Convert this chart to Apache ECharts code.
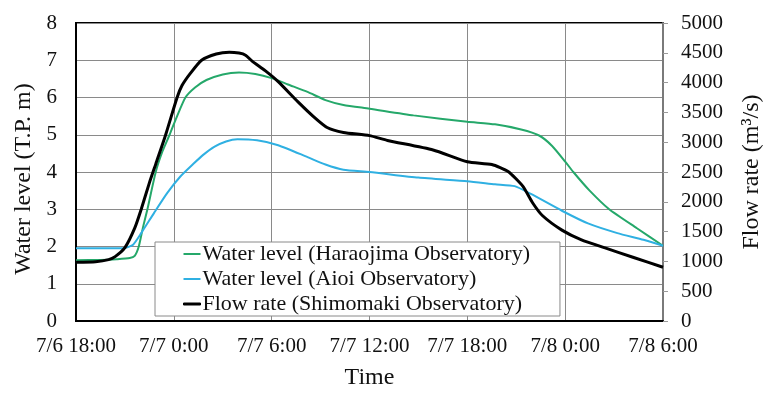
<!DOCTYPE html>
<html>
<head>
<meta charset="utf-8">
<script src="https://cdn.jsdelivr.net/npm/echarts@6/dist/echarts.min.js"></script>
<style>
  html, body { margin: 0; padding: 0; background: #fff; }
  #chart { width: 772px; height: 395px; }
</style>
</head>
<body>
<div id="chart"></div>
<script>
// hours after 7/6 18:00
const timeLabels = ['7/6 18:00', '7/7 0:00', '7/7 6:00', '7/7 12:00', '7/7 18:00', '7/8 0:00', '7/8 6:00'];

// water level (T.P. m), Haraojima
const haraojima = [
  [0, 1.63], [1.5, 1.64], [2.5, 1.66], [3.3, 1.69], [3.6, 1.75], [3.85, 2.0],
  [4.1, 2.5], [4.38, 3.0], [4.89, 4.0], [5.3, 4.55], [5.74, 5.0], [6.2, 5.5],
  [6.71, 6.0], [7.3, 6.27], [8.0, 6.47], [9.0, 6.62], [10.0, 6.67], [11.0, 6.63],
  [12.0, 6.52], [13.0, 6.35], [14.2, 6.15], [15.3, 5.93], [16.4, 5.8], [18, 5.7],
  [20.7, 5.52], [24, 5.35], [25.7, 5.28], [27.3, 5.14], [28.4, 4.98], [29.2, 4.7],
  [30, 4.28], [30.5, 4.0], [31.5, 3.5], [32.7, 3.0], [34.4, 2.49], [36, 2.02]
];

// water level (T.P. m), Aioi
const aioi = [
  [0, 1.95], [2, 1.95], [3, 1.96], [3.5, 2.05], [4.0, 2.36], [4.8, 2.91],
  [5.6, 3.44], [6.4, 3.88], [7.2, 4.22], [7.8, 4.46], [8.5, 4.68], [9.2, 4.82],
  [9.9, 4.88], [11.1, 4.85], [12.4, 4.72], [14.2, 4.4], [15.3, 4.2], [16.4, 4.06],
  [18, 4.0], [21, 3.85], [24, 3.75], [25.7, 3.67], [26.9, 3.62], [27.9, 3.41],
  [29.8, 2.96], [31.4, 2.62], [33.2, 2.36], [34.8, 2.18], [36, 2.02]
];

// flow rate (m3/s), Shimomaki
const shimomaki = [
  [0, 985], [1.2, 995], [2.0, 1030], [2.4, 1080], [3.0, 1230], [3.6, 1557],
  [4.0, 1875], [4.5, 2318], [4.9, 2640], [5.5, 3125], [6.2, 3750], [6.5, 3950],
  [7.0, 4150], [7.7, 4375], [8.6, 4480], [9.4, 4510], [10.0, 4495], [10.4, 4460],
  [10.8, 4360], [11.6, 4200], [12.4, 4016], [13.6, 3680], [14.6, 3420], [15.4, 3246],
  [16.4, 3164], [18.0, 3110], [19.1, 3030], [21.9, 2870], [24.0, 2672], [25.5, 2625],
  [26.5, 2508], [27.4, 2262], [28.0, 1984], [28.6, 1770], [29.8, 1525], [31.0, 1361],
  [32.4, 1230], [34.2, 1066], [36, 902]
];

const FONT = '"Liberation Serif", "Times New Roman", serif';
const TEXT = '#111';
const GRID = '#8a8a8a';

const chart = echarts.init(document.getElementById('chart'));

const lineSeries = (name, data, color, width, yAxisIndex) => ({
  name: name,
  type: 'line',
  yAxisIndex: yAxisIndex,
  data: data,
  symbol: 'none',
  smooth: 0.2,
  lineStyle: {color: color, width: width},
  itemStyle: {color: color}
});

chart.setOption({
  animation: false,
  textStyle: {fontFamily: FONT, color: TEXT},
  grid: {
    left: 76, right: 102, top: 23, bottom: 67,
    show: true, borderColor: '#000', borderWidth: 2
  },
  legend: {
    left: 155,
    top: 242,
    orient: 'vertical',
    icon: 'rect',
    itemWidth: 17,
    itemHeight: 2,
    itemGap: 3,
    padding: [1, 30, 1, 28],
    backgroundColor: '#fff',
    borderColor: '#8a8a8a',
    borderWidth: 1,
    borderRadius: 0,
    data: [
      {name: 'Water level (Haraojima Observatory)'},
      {name: 'Water level (Aioi Observatory)'},
      {name: 'Flow rate (Shimomaki Observatory)', itemStyle: {borderColor: '#000', borderWidth: 1}}
    ],
    textStyle: {fontFamily: FONT, fontSize: 22, color: TEXT, lineHeight: 22, padding: [0, 0, 0, -3]}
  },
  xAxis: {
    type: 'value',
    min: 0,
    max: 36,
    interval: 6,
    name: 'Time',
    nameLocation: 'middle',
    nameGap: 45,
    nameTextStyle: {fontFamily: FONT, fontSize: 24, color: TEXT},
    axisLine: {lineStyle: {color: '#000', width: 2}},
    axisTick: {show: false},
    splitLine: {lineStyle: {color: GRID, width: 1}},
    axisLabel: {
      fontFamily: FONT, fontSize: 21, color: TEXT, margin: 15,
      formatter: (v) => timeLabels[Math.round(v / 6)]
    }
  },
  yAxis: [
    {
      type: 'value',
      min: 0,
      max: 8,
      interval: 1,
      name: 'Water level (T.P. m)',
      nameLocation: 'middle',
      nameRotate: 90,
      nameGap: 39,
      nameTextStyle: {fontFamily: FONT, fontSize: 24, color: TEXT, padding: [0, 14, 0, 0]},
      axisLine: {show: true, lineStyle: {color: '#000', width: 2}},
      axisTick: {show: false},
      splitLine: {lineStyle: {color: GRID, width: 1}},
      axisLabel: {fontFamily: FONT, fontSize: 21, color: TEXT, margin: 19}
    },
    {
      type: 'value',
      min: 0,
      max: 5000,
      interval: 500,
      position: 'right',
      name: 'Flow rate (m³/s)',
      nameLocation: 'middle',
      nameRotate: 90,
      nameGap: 77,
      nameTextStyle: {fontFamily: FONT, fontSize: 24, color: TEXT},
      axisLine: {show: true, lineStyle: {color: '#7a7a7a', width: 2}},
      axisTick: {show: true, length: 5, lineStyle: {color: '#9a9a9a', width: 1}},
      splitLine: {show: false},
      axisLabel: {fontFamily: FONT, fontSize: 21, color: TEXT, margin: 18, formatter: (v) => String(v)}
    }
  ],
  series: [
    lineSeries('Water level (Haraojima Observatory)', haraojima, '#25a86a', 2, 0),
    lineSeries('Water level (Aioi Observatory)', aioi, '#2fb0e2', 2, 0),
    lineSeries('Flow rate (Shimomaki Observatory)', shimomaki, '#000', 3, 1)
  ]
});
</script>
</body>
</html>
